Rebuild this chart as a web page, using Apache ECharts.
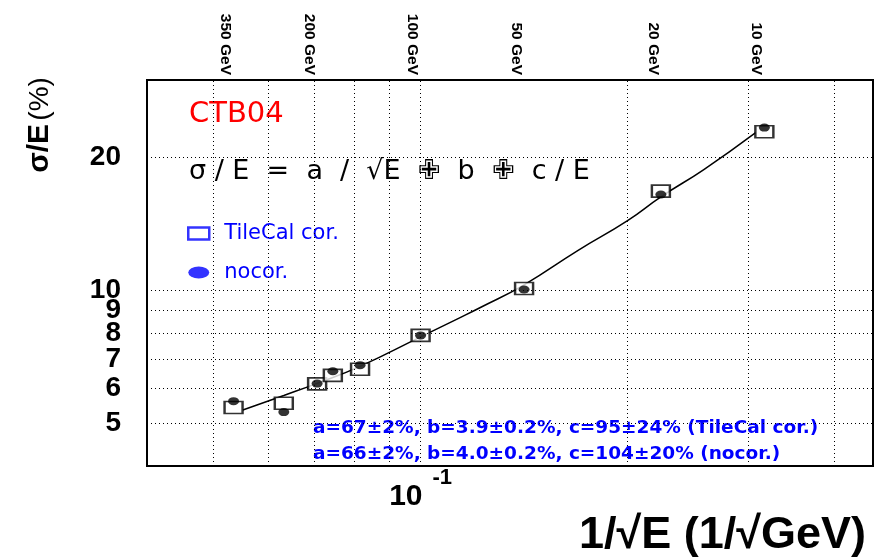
<!DOCTYPE html>
<html>
<head>
<meta charset="utf-8">
<script src="https://cdn.jsdelivr.net/npm/echarts@6/dist/echarts.min.js"></script>
<style>html,body{margin:0;padding:0;background:#fff;}#c{width:880px;height:558px;}</style>
</head>
<body>
<div id="c"></div>
<script>
// Beam energies (GeV) of the measured points
const energies = [350, 250, 200, 180, 150, 100, 50, 20, 10];
// sigma/E (%) TileCal cor. (open squares)
const tileCalCor = [5.43, 5.55, 6.14, 6.42, 6.63, 7.91, 10.1, 16.8, 22.9];
// sigma/E (%) nocor. (filled circles)
const nocor = [5.61, 5.30, 6.15, 6.56, 6.77, 7.91, 10.05, 16.5, 23.4];
// fit curve
const curveE = [329, 250, 201, 150, 100, 77, 67, 50, 35, 25, 20, 15, 10.6];
const curveSigma = [5.36, 5.78, 6.15, 6.73, 7.85, 8.67, 9.15, 10.3, 12.3, 14.4, 16.3, 18.8, 22.8];
// top axis energy labels (GeV)
const topEnergies = [350, 200, 100, 50, 20, 10];
// grid lines / tick labels
const xGrid = [0.05, 0.06, 0.07, 0.08, 0.09, 0.1, 0.2, 0.3, 0.4];
const yGrid = [5, 6, 7, 8, 9, 10, 20];
const yTickLabels = [5, 6, 7, 8, 9, 10, 20];
const xTickLabels = [0.1];

const X_MIN = 0.04, X_MAX = 0.455, Y_MIN = 4, Y_MAX = 30;
const inv = e => 1 / Math.sqrt(e);

const chart = echarts.init(document.getElementById('c'), null, {renderer: 'canvas'});
const HB = 'Liberation Sans, Arial, Helvetica, sans-serif';
const DJ = 'DejaVu Sans, sans-serif';

chart.setOption({
  animation: false,
  backgroundColor: '#fff',
  grid: {left: 147, right: 7, top: 80, bottom: 90, show: true, borderColor: '#000', borderWidth: 2, backgroundColor: 'transparent'},
  xAxis: [{
    type: 'log', logBase: 10, min: X_MIN, max: X_MAX, position: 'bottom',
    axisLine: {show: false}, axisTick: {show: false}, splitLine: {show: false},
    axisLabel: {
      customValues: xTickLabels,
      margin: 1,
      verticalAlign: 'top',
      formatter: v => Math.abs(v - 0.1) < 1e-6 ? '{b|10}{s|-1}' : '',
      rich: {
        b: {fontFamily: HB, fontWeight: 'bold', fontSize: 30, color: '#000'},
        s: {fontFamily: HB, fontWeight: 'bold', fontSize: 22, color: '#000', padding: [0, 0, 38, 10]}
      }
    },
    name: '1/\u221AE (1/\u221AGeV)', nameLocation: 'end', nameGap: -7,
    nameTextStyle: {fontFamily: HB, fontWeight: 'bold', fontSize: 45, color: '#000', align: 'right', verticalAlign: 'top', padding: [47, 0, 0, 0]}
  }, {
    type: 'log', logBase: 10, min: X_MIN, max: X_MAX, position: 'top',
    axisLine: {show: false}, axisTick: {show: false}, splitLine: {show: false},
    axisLabel: {
      customValues: topEnergies.map(inv),
      rotate: 90, margin: 5, verticalAlign: 'top',
      formatter: v => Math.round(1 / (v * v)) + ' GeV',
      fontFamily: HB, fontWeight: 'bold', fontSize: 15.5, color: '#000'
    }
  }],
  yAxis: [{
    type: 'log', logBase: 10, min: Y_MIN, max: Y_MAX,
    axisLine: {show: false}, axisTick: {show: false}, splitLine: {show: false},
    axisLabel: {customValues: yTickLabels, margin: 26, fontFamily: HB, fontWeight: 'bold', fontSize: 28, color: '#000'},
    name: '{a|\u03C3/E} {b|(%)}', nameLocation: 'end', nameGap: -45, nameRotate: 90,
    nameTextStyle: {
      align: 'center', verticalAlign: 'bottom', padding: [0, 0, 92, 0],
      rich: {
        a: {fontFamily: HB, fontWeight: 'bold', fontSize: 30, color: '#000'},
        b: {fontFamily: HB, fontWeight: 'normal', fontSize: 28, color: '#000'}
      }
    }
  }],
  legend: {
    orient: 'vertical', left: 187, top: 223, padding: 0, itemWidth: 21, itemHeight: 12, itemGap: 18,
    selectedMode: false,
    textStyle: {fontFamily: DJ, fontSize: 21, color: '#0000ff', padding: [0, 0, 0, 10]},
    data: [
      {name: 'TileCal cor.', icon: 'rect', itemStyle: {color: '#fff', borderColor: '#0000ff', borderWidth: 2.5}},
      {name: 'nocor.', icon: 'path://M0,6a10.5,6 0 1,0 21,0a10.5,6 0 1,0 -21,0z', itemStyle: {color: '#0000ff', borderWidth: 0}}
    ]
  },
  graphic: [
    {type: 'text', left: 189, top: 100, style: {text: 'CTB04', fontFamily: DJ, fontSize: 29, fill: '#ff0000'}},
    {type: 'text', left: 189, top: 158, style: {text: '\u03C3 / E  =  a  /  \u221AE  \u2719  b  \u2719  c / E', fontFamily: DJ, fontSize: 27, fill: '#000'}},
    {type: 'text', left: 313, top: 419, style: {text: 'a=67\u00B12%, b=3.9\u00B10.2%, c=95\u00B124% (TileCal cor.)', fontFamily: DJ, fontWeight: 'bold', fontSize: 18.5, fill: '#0000ff'}},
    {type: 'text', left: 313, top: 445, style: {text: 'a=66\u00B12%, b=4.0\u00B10.2%, c=104\u00B120% (nocor.)', fontFamily: DJ, fontWeight: 'bold', fontSize: 18.5, fill: '#0000ff'}}
  ],
  series: [
    {
      type: 'line', name: 'grid', data: [], z: 1, silent: true,
      markLine: {
        silent: true, symbol: 'none', animation: false,
        label: {show: false},
        lineStyle: {type: [1, 3], color: '#000', width: 1},
        data: xGrid.map(v => ({xAxis: v})).concat(yGrid.map(v => ({yAxis: v})))
      }
    },
    {
      type: 'line', name: 'fit', smooth: true, symbol: 'none', z: 2,
      lineStyle: {color: '#000', width: 1.5},
      data: curveE.map((e, i) => [inv(e), curveSigma[i]])
    },
    {
      type: 'scatter', name: 'TileCal cor.', symbol: 'rect', symbolSize: [18, 12], z: 3,
      itemStyle: {color: '#fff', borderColor: '#000', borderWidth: 2},
      data: energies.map((e, i) => [inv(e), tileCalCor[i]])
    },
    {
      type: 'scatter', name: 'nocor.', symbol: 'circle', symbolSize: [11, 8], z: 4,
      itemStyle: {color: '#000'},
      data: energies.map((e, i) => [inv(e), nocor[i]])
    }
  ]
});
</script>
</body>
</html>
